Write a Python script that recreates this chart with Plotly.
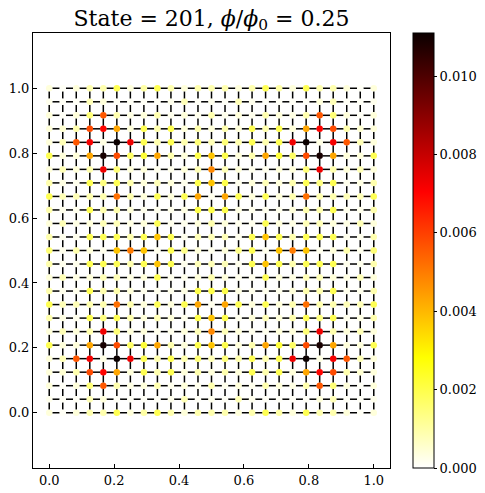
import numpy as np
import plotly.graph_objects as go

# lattice of 25 x 25 sites on [0, 1] x [0, 1]
n_sites = 25
state_index = 201
flux = 0.25

# probability density |psi|^2, in units of 1e-3
# rows go from y = 1.0 (top) down to y = 0.0 (bottom), columns from x = 0.0 to x = 1.0
density_milli = [
    [0.4, 0.1, 0.4, 0.9, 0.9, 1.9, 0.4, 1.0, 1.9, 0.9, 0.4, 0.9, 0.9, 0.9, 0.4, 0.9, 1.9, 1.0, 0.4, 1.9, 0.9, 0.9, 0.4, 0.1, 0.4],
    [0.2, 0.1, 0.1, 0.8, 0.4, 0.1, 0.1, 0.1, 0.1, 0.2, 0.8, 0.1, 0.2, 0.1, 0.8, 0.2, 0.1, 0.1, 0.1, 0.1, 0.4, 0.8, 0.1, 0.1, 0.2],
    [0.4, 0.1, 0.4, 1.5, 5.6, 0.9, 0.3, 0.4, 0.9, 0.2, 0.4, 0.2, 0.9, 0.2, 0.4, 0.2, 0.9, 0.4, 0.3, 0.9, 5.6, 1.5, 0.4, 0.1, 0.4],
    [0.4, 0.5, 0.9, 5.8, 7.0, 4.3, 0.4, 1.9, 0.9, 1.9, 0.4, 0.9, 0.4, 0.9, 0.4, 1.9, 0.9, 1.9, 0.4, 4.3, 7.0, 5.8, 0.9, 0.5, 0.4],
    [0.4, 0.8, 5.6, 7.2, 0.3, 11.1, 7.3, 1.9, 0.9, 1.9, 0.9, 1.5, 0.8, 1.5, 0.9, 1.9, 0.9, 1.9, 7.3, 11.1, 0.3, 7.2, 5.6, 0.8, 0.4],
    [1.9, 0.4, 0.4, 4.3, 10.9, 5.8, 1.7, 2.2, 4.3, 0.9, 0.4, 2.0, 3.8, 2.0, 0.4, 0.9, 4.3, 2.2, 1.7, 5.8, 10.9, 4.3, 0.4, 0.4, 1.9],
    [0.4, 0.8, 0.4, 0.9, 7.3, 1.5, 0.4, 0.4, 0.2, 0.2, 0.4, 0.8, 4.8, 0.8, 0.4, 0.2, 0.2, 0.4, 0.4, 1.5, 7.3, 0.9, 0.4, 0.8, 0.4],
    [0.9, 0.3, 0.2, 1.9, 1.4, 1.9, 0.9, 0.4, 0.8, 0.4, 0.2, 2.0, 3.8, 2.0, 0.2, 0.4, 0.8, 0.4, 0.9, 1.9, 1.4, 1.9, 0.2, 0.3, 0.9],
    [1.9, 0.8, 0.8, 0.9, 0.9, 5.2, 0.9, 0.4, 1.9, 0.4, 1.9, 4.3, 0.2, 4.3, 1.9, 0.4, 1.9, 0.4, 0.9, 5.2, 0.9, 0.9, 0.8, 0.8, 1.9],
    [0.9, 0.2, 0.2, 1.9, 0.9, 0.9, 0.4, 0.2, 0.2, 0.2, 0.3, 2.0, 2.0, 2.0, 0.3, 0.2, 0.2, 0.2, 0.4, 0.9, 0.9, 1.9, 0.2, 0.2, 0.9],
    [0.4, 0.8, 0.3, 0.4, 0.8, 0.8, 0.3, 0.4, 1.9, 0.2, 0.2, 0.4, 0.9, 0.4, 0.2, 0.2, 1.9, 0.4, 0.3, 0.8, 0.8, 0.4, 0.3, 0.8, 0.4],
    [0.9, 0.2, 0.2, 1.9, 1.9, 1.9, 0.9, 1.9, 3.8, 1.9, 0.2, 0.8, 0.8, 0.8, 0.2, 1.9, 3.8, 1.9, 0.9, 1.9, 1.9, 1.9, 0.2, 0.2, 0.9],
    [1.5, 0.2, 0.9, 0.4, 0.2, 3.8, 5.0, 3.8, 0.2, 1.9, 1.3, 0.4, 0.2, 0.4, 1.3, 1.9, 0.2, 3.8, 5.0, 3.8, 0.2, 0.4, 0.9, 0.2, 1.5],
    [0.9, 0.2, 0.2, 1.9, 1.9, 1.9, 0.9, 1.9, 3.8, 1.9, 0.2, 0.8, 0.8, 0.8, 0.2, 1.9, 3.8, 1.9, 0.9, 1.9, 1.9, 1.9, 0.2, 0.2, 0.9],
    [0.4, 0.8, 0.3, 0.4, 0.8, 0.8, 0.3, 0.4, 1.9, 0.2, 0.2, 0.4, 0.9, 0.4, 0.2, 0.2, 1.9, 0.4, 0.3, 0.8, 0.8, 0.4, 0.3, 0.8, 0.4],
    [0.9, 0.2, 0.2, 1.9, 0.9, 0.9, 0.4, 0.2, 0.2, 0.2, 0.3, 2.0, 2.0, 2.0, 0.3, 0.2, 0.2, 0.2, 0.4, 0.9, 0.9, 1.9, 0.2, 0.2, 0.9],
    [1.9, 0.8, 0.8, 0.9, 0.9, 5.2, 0.9, 0.4, 1.9, 0.4, 1.9, 4.3, 0.2, 4.3, 1.9, 0.4, 1.9, 0.4, 0.9, 5.2, 0.9, 0.9, 0.8, 0.8, 1.9],
    [0.9, 0.3, 0.2, 1.9, 1.4, 1.9, 0.9, 0.4, 0.8, 0.4, 0.2, 2.0, 3.8, 2.0, 0.2, 0.4, 0.8, 0.4, 0.9, 1.9, 1.4, 1.9, 0.2, 0.3, 0.9],
    [0.4, 0.8, 0.4, 0.9, 7.3, 1.5, 0.4, 0.4, 0.2, 0.2, 0.4, 0.8, 4.8, 0.8, 0.4, 0.2, 0.2, 0.4, 0.4, 1.5, 7.3, 0.9, 0.4, 0.8, 0.4],
    [1.9, 0.4, 0.4, 4.3, 10.9, 5.8, 1.7, 2.2, 4.3, 0.9, 0.4, 2.0, 3.8, 2.0, 0.4, 0.9, 4.3, 2.2, 1.7, 5.8, 10.9, 4.3, 0.4, 0.4, 1.9],
    [0.4, 0.8, 5.6, 7.2, 0.3, 11.1, 7.3, 1.9, 0.9, 1.9, 0.9, 1.5, 0.8, 1.5, 0.9, 1.9, 0.9, 1.9, 7.3, 11.1, 0.3, 7.2, 5.6, 0.8, 0.4],
    [0.4, 0.5, 0.9, 5.8, 7.0, 4.3, 0.4, 1.9, 0.9, 1.9, 0.4, 0.9, 0.4, 0.9, 0.4, 1.9, 0.9, 1.9, 0.4, 4.3, 7.0, 5.8, 0.9, 0.5, 0.4],
    [0.4, 0.1, 0.4, 1.5, 5.6, 0.9, 0.3, 0.4, 0.9, 0.2, 0.4, 0.2, 0.9, 0.2, 0.4, 0.2, 0.9, 0.4, 0.3, 0.9, 5.6, 1.5, 0.4, 0.1, 0.4],
    [0.2, 0.1, 0.1, 0.8, 0.4, 0.1, 0.1, 0.1, 0.1, 0.2, 0.8, 0.1, 0.2, 0.1, 0.8, 0.2, 0.1, 0.1, 0.1, 0.1, 0.4, 0.8, 0.1, 0.1, 0.2],
    [0.4, 0.1, 0.4, 0.9, 0.9, 1.9, 0.4, 1.0, 1.9, 0.9, 0.4, 0.9, 0.9, 0.9, 0.4, 0.9, 1.9, 1.0, 0.4, 1.9, 0.9, 0.9, 0.4, 0.1, 0.4],
]

axis_ticks = [0.0, 0.2, 0.4, 0.6, 0.8, 1.0]
cbar_ticks = [0.000, 0.002, 0.004, 0.006, 0.008, 0.010]
cbar_max = 0.0111

# matplotlib "hot_r"
hot_r = [
    [0.0, 'rgb(255,255,255)'],
    [0.253968, 'rgb(255,255,0)'],
    [0.634921, 'rgb(255,0,0)'],
    [1.0, 'rgb(11,0,0)'],
]

FONT = 'DejaVu Serif'


def bond_segments(sites, frac=0.22):
    # short solid pieces centred on every nearest-neighbour bond (looks like '--')
    hx, hy, vx, vy = [], [], [], []
    step = sites[1] - sites[0]
    for a in sites:
        for b in sites[:-1]:
            # horizontal bond along row y=a
            hx += [b + frac * step, b + (1 - frac) * step, None]
            hy += [a, a, None]
            # vertical bond along column x=a
            vx += [a, a, None]
            vy += [b + frac * step, b + (1 - frac) * step, None]
    return hx + vx, hy + vy


def main():
    x_sites = np.linspace(0, 1, n_sites)
    y_sites = x_sites[::-1]
    xx, yy = np.meshgrid(x_sites, y_sites)
    dens = np.array(density_milli) * 1e-3

    fig = go.Figure()

    bx, by = bond_segments(list(x_sites))
    fig.add_trace(go.Scatter(
        x=bx, y=by,
        mode='lines',
        line=dict(color='black', width=1.5),
        hoverinfo='skip',
        showlegend=False,
    ))

    fig.add_trace(go.Scatter(
        x=xx.ravel(), y=yy.ravel(),
        mode='markers',
        marker=dict(
            size=6.5,
            color=dens.ravel(),
            colorscale=hot_r,
            cmin=0, cmax=cbar_max,
            line=dict(width=0),
            showscale=True,
            colorbar=dict(
                x=1.0644, xanchor='left', xpad=0,
                y=0.5, yanchor='middle', ypad=0,
                len=1, lenmode='fraction',
                thickness=21, thicknessmode='pixels',
                outlinewidth=1, outlinecolor='black',
                ticks='outside', ticklen=3, tickcolor='black',
                tickvals=cbar_ticks, tickformat='.3f',
                tickfont=dict(family=FONT, size=13, color='black'),
            ),
        ),
        showlegend=False,
    ))

    axis_style = dict(
        showline=True, mirror=True, linecolor='black', linewidth=1,
        ticks='inside', ticklen=4, tickcolor='black',
        tickvals=axis_ticks, tickformat='.1f',
        tickfont=dict(family=FONT, size=13, color='black'),
        showgrid=False, zeroline=False, automargin=False,
    )

    fig.update_layout(
        width=485, height=493,
        margin=dict(l=33, r=95, t=33, b=25, autoexpand=False),
        paper_bgcolor='white', plot_bgcolor='white',
        title=dict(
            text=f'State = {state_index}, <i>ϕ</i>/<i>ϕ</i><sub>0</sub> = {flux}',
            x=0.5, xref='paper', xanchor='center',
            y=1 - 18 / 493, yanchor='middle',
            font=dict(family=FONT, size=22, color='black'),
        ),
        xaxis=dict(range=[-0.05, 1.05], **axis_style),
        yaxis=dict(range=[-0.1703, 1.1703], **axis_style),
    )

    # the page body has a default 8px margin; drop it so the figure sits at (0, 0)
    fig.write_html("out.html",
                   config={'displayModeBar': False},
                   post_script="document.body.style.margin='0';")


if __name__ == '__main__':
    main()
